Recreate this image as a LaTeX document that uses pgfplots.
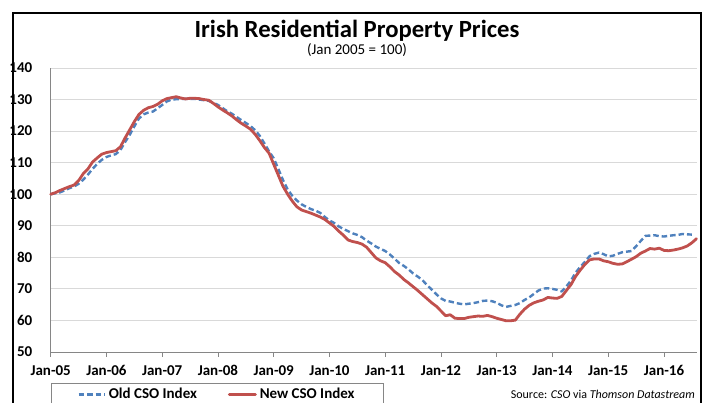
\documentclass[border=0pt]{standalone}
\usepackage{pgfplots}
\usepackage{pgfplotstable}
\pgfplotsset{compat=1.18}
\usepackage{fontspec}
\setmainfont{Carlito}
\definecolor{oldblue}{RGB}{79,129,189}
\definecolor{newred}{RGB}{192,80,77}
\definecolor{gridgray}{RGB}{217,217,217}
\definecolor{axisgray}{RGB}{134,134,134}

\pgfplotstableread{
m v
0 100
1 100.3
2 100.6
3 101.2
4 101.9
5 102.4
6 103.3
7 104.6
8 106.2
9 108
10 109.6
11 110.9
12 111.8
13 112.3
14 112.7
15 114
16 116.5
17 118.8
18 121.5
19 124
20 125.3
21 125.9
22 126.2
23 127.2
24 128.3
25 129.4
26 130
27 130.1
28 130.2
29 130.2
30 130.2
31 130.2
32 130
33 129.8
34 129.6
35 129
36 128.3
37 127.3
38 126.3
39 125.5
40 124.5
41 123.5
42 122.6
43 121.6
44 120.3
45 118.5
46 116.1
47 113.6
48 111.4
49 108
50 104.5
51 101.5
52 99.5
53 98
54 96.8
55 96
56 95.3
57 94.8
58 94.1
59 92.8
60 91.7
61 90.9
62 89.8
63 89
64 88.3
65 87.6
66 87.1
67 86.4
68 85.3
69 84.4
70 83.4
71 82.7
72 82
73 80.9
74 79.6
75 78.2
76 77.3
77 76.2
78 74.9
79 73.9
80 72.8
81 71.2
82 69.8
83 68.3
84 67
85 66.2
86 66
87 65.6
88 65.3
89 65.1
90 65.3
91 65.5
92 65.8
93 66.2
94 66.3
95 66.1
96 65.6
97 64.8
98 64.3
99 64.6
100 64.9
101 65.5
102 66.5
103 67.3
104 68.4
105 69.5
106 70.1
107 70.2
108 70.0
109 69.7
110 69.2
111 70.8
112 72.7
113 75.2
114 77
115 78.6
116 80.4
117 81.1
118 81.5
119 81
120 80.3
121 80.5
122 81.1
123 81.6
124 81.8
125 82
126 83.5
127 85.2
128 86.8
129 86.9
130 87
131 86.7
132 86.6
133 86.8
134 87
135 87.1
136 87.4
137 87.3
138 87.2
}\oldcso

\pgfplotstableread{
m v
0 100
1 100.5
2 101.2
3 101.8
4 102.4
5 102.9
6 104.3
7 106.5
8 108
9 110.2
10 111.5
11 112.7
12 113.2
13 113.5
14 113.8
15 115
16 117.8
17 120.4
18 123
19 125.3
20 126.6
21 127.4
22 127.8
23 128.5
24 129.6
25 130.3
26 130.6
27 130.9
28 130.5
29 130.2
30 130.4
31 130.4
32 130.3
33 130
34 129.8
35 128.8
36 127.7
37 126.7
38 125.8
39 124.8
40 123.6
41 122.5
42 121.6
43 120.6
44 119
45 117
46 114.8
47 113
48 109.5
49 106
50 102.5
51 100
52 97.8
53 96
54 95
55 94.5
56 94
57 93.4
58 92.8
59 92
60 90.9
61 89.8
62 88.3
63 87
64 85.5
65 85
66 84.7
67 84.2
68 83.2
69 81.5
70 79.8
71 78.9
72 78.3
73 77
74 75.5
75 74.4
76 73
77 71.9
78 70.7
79 69.5
80 68.2
81 66.9
82 65.6
83 64.5
84 63
85 61.5
86 61.8
87 60.7
88 60.6
89 60.6
90 61
91 61.2
92 61.4
93 61.3
94 61.6
95 61.2
96 60.7
97 60.3
98 59.9
99 59.9
100 60.1
101 62
102 63.6
103 64.8
104 65.6
105 66.1
106 66.5
107 67.3
108 67.1
109 67
110 67.6
111 69.5
112 71.4
113 74
114 76
115 77.8
116 79.2
117 79.5
118 79.5
119 78.9
120 78.6
121 78.1
122 77.8
123 77.9
124 78.6
125 79.4
126 80.2
127 81.3
128 82
129 82.8
130 82.6
131 82.9
132 82.2
133 82.1
134 82.3
135 82.6
136 83
137 83.6
138 84.6
139 85.9
}\newcso

\begin{document}
\begin{tikzpicture}[x=1pt,y=1pt]
\useasboundingbox (0,0) rectangle (712,402);
% outer frame
\draw[line width=1.6pt] (12.7,-20) -- (12.7,389) -- (701,389) -- (701,-20);
% titles
\node[anchor=base, font=\bfseries\fontsize{24.7}{29}\selectfont, inner sep=0pt] at (357,364.5) {Irish Residential Property Prices};
\node[anchor=base, font=\fontsize{15}{18}\selectfont, inner sep=0pt] at (357,347.5) {(Jan 2005 = 100)};
% source
\node[anchor=base east, font=\fontsize{12}{14}\selectfont, inner sep=0pt] at (695,4) {Source: \textit{CSO} via \textit{Thomson Datastream}};
\begin{axis}[
  at={(50.7pt,50pt)}, anchor=south west,
  scale only axis, width=645.8pt, height=284pt,
  xmin=0, xmax=139, ymin=50, ymax=140,
  clip=false,
  axis x line*=bottom, axis y line*=left,
  axis line style={-, draw=axisgray, line width=0.9pt},
  xtick={0,12,...,132},
  xticklabels={Jan-05,Jan-06,Jan-07,Jan-08,Jan-09,Jan-10,Jan-11,Jan-12,Jan-13,Jan-14,Jan-15,Jan-16},
  ytick={50,60,...,140},
  yticklabels={50,60,70,80,90,100,110,120,130,140},
  tick align=outside,
  x tick style={draw=axisgray, line width=0.9pt},
  major tick length=4.5pt,
  y tick style={draw=none},
  ymajorgrids, major grid style={draw=gridgray, line width=0.8pt},
  ticklabel style={font=\bfseries\fontsize{15}{18}\selectfont, inner sep=0pt},
  xticklabel style={anchor=base, yshift=-18.5pt},
  yticklabel style={anchor=east, xshift=-13.7pt},
  legend columns=2,
  legend image code/.code={\draw[#1] (0pt,0pt) -- (26pt,0pt);},
  legend style={at={(axis description cs:0.0005,-0.109)}, anchor=north west,
    draw=axisgray, line width=0.8pt, inner xsep=26pt, inner ysep=2pt,
    column sep=0pt,
    /tikz/every even column/.append style={column sep=28pt},
    font=\bfseries\fontsize{15}{18}\selectfont,
    nodes={inner sep=3pt}},
]
\addplot[oldblue, line width=2.4pt, dash pattern=on 5.5pt off 3pt, line join=round] table[x=m,y=v] {\oldcso};
\addlegendentry{Old CSO Index}
\addplot[newred, line width=2.8pt, line join=round, line cap=round] table[x=m,y=v] {\newcso};
\addlegendentry{New CSO Index}
\end{axis}
\end{tikzpicture}
\end{document}
